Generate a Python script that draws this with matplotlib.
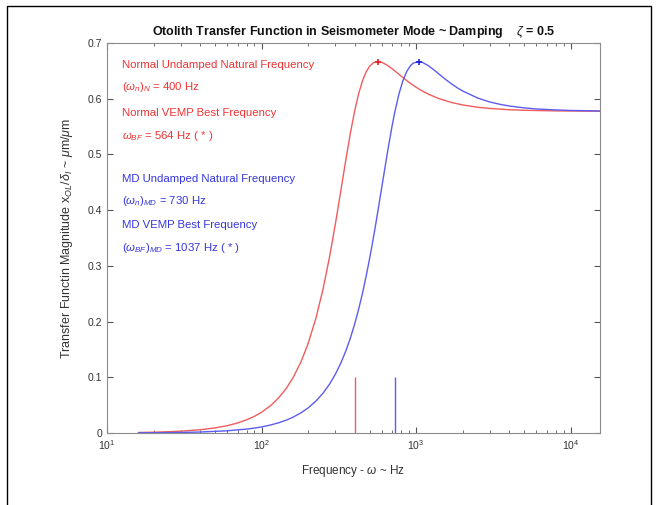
import matplotlib.pyplot as plt
from matplotlib.patches import Rectangle

# Normal ear (red)
freq_n = [16, 20, 25, 30, 40, 50, 60, 70, 80, 90, 100, 115, 130, 145, 160, 180, 200, 225, 250, 275,
          300, 325, 350, 375, 400, 425, 450, 475, 500, 530, 564, 600, 650, 700, 750, 800, 900, 1000,
          1100, 1200, 1400, 1700, 2000, 2500, 3000, 4000, 5000, 8000, 15500]
mag_n = [0.0009, 0.0014, 0.0023, 0.0033, 0.0058, 0.0091, 0.0131, 0.0180, 0.0236, 0.0300, 0.0372,
         0.0496, 0.0641, 0.0806, 0.0993, 0.1277, 0.1601, 0.2064, 0.2584, 0.3150, 0.3740, 0.4328,
         0.4880, 0.5368, 0.5774, 0.6090, 0.6322, 0.6480, 0.6581, 0.6645, 0.6667, 0.6653, 0.6602,
         0.6537, 0.6469, 0.6405, 0.6294, 0.6206, 0.6136, 0.6082, 0.6003, 0.5931, 0.5888, 0.5847,
         0.5825, 0.5802, 0.5792, 0.5781, 0.5775]

# Meniere's disease ear (blue)
freq_md = [16, 20, 30, 40, 60, 80, 90, 100, 115, 130, 145, 160, 180, 200, 225, 250, 275, 300, 325,
           350, 375, 400, 425, 450, 475, 500, 525, 550, 575, 600, 650, 700, 730, 775, 820, 870, 920,
           960, 1037, 1100, 1200, 1300, 1400, 1550, 1700, 1850, 2000, 2500, 3000, 3500, 4000, 5000,
           6000, 8000, 10000, 15500]
mag_md = [0.0003, 0.0004, 0.0010, 0.0017, 0.0039, 0.0070, 0.0088, 0.0109, 0.0145, 0.0186, 0.0232,
          0.0284, 0.0362, 0.0449, 0.0574, 0.0715, 0.0874, 0.1052, 0.1248, 0.1463, 0.1697, 0.1950,
          0.2222, 0.2509, 0.2812, 0.3126, 0.3447, 0.3773, 0.4097, 0.4414, 0.5007, 0.5517, 0.5774,
          0.6086, 0.6316, 0.6489, 0.6593, 0.6640, 0.6667, 0.6651, 0.6593, 0.6520, 0.6447, 0.6347,
          0.6264, 0.6195, 0.6139, 0.6013, 0.5941, 0.5898, 0.5869, 0.5835, 0.5816, 0.5798, 0.5789,
          0.5780]

natural_freq = [400, 730]
best_freq = [564, 1037]
peak_mag = [0.6667, 0.6667]

red_line, blue_line = '#f05c5c', '#5c5cf0'
red_txt, blue_txt = '#ee3333', '#3535dd'

plt.rcParams['font.family'] = ['Liberation Sans', 'DejaVu Sans']
plt.rcParams['mathtext.fontset'] = 'custom'
plt.rcParams['mathtext.rm'] = 'Liberation Sans'
plt.rcParams['mathtext.it'] = 'Liberation Sans:italic'

fig = plt.figure(figsize=(6.59, 5.05), dpi=100)
ax = fig.add_axes([0.1624, 0.1426, 0.7481, 0.7723])

ax.plot(freq_n, mag_n, color=red_line, lw=1.0)
ax.plot(freq_md, mag_md, color=blue_line, lw=1.0)
ax.vlines(natural_freq[0], 0, 0.1, color=red_line, lw=1.0)
ax.vlines(natural_freq[1], 0, 0.1, color=blue_line, lw=1.0)
ax.plot(best_freq[0], peak_mag[0], '+', color='#e02020', ms=5, mew=1.2)
ax.plot(best_freq[1], peak_mag[1], '+', color='#2020e0', ms=5, mew=1.2)

ax.set_xscale('log')
ax.set_xlim(10, 15500)
ax.set_ylim(0, 0.7)
ax.set_yticks([0, 0.1, 0.2, 0.3, 0.4, 0.5, 0.6, 0.7])
ax.set_yticklabels(['0', '0.1', '0.2', '0.3', '0.4', '0.5', '0.6', '0.7'])

for s in ax.spines.values():
    s.set_color('#8c8c8c')
    s.set_linewidth(0.8)
ax.tick_params(which='both', direction='in', top=True, right=True, color='#555555',
               labelsize=7.5, labelcolor='#333333')
ax.tick_params(which='major', length=4)
ax.tick_params(which='minor', length=2.5)

ax.set_title('Otolith Transfer Function in Seismometer Mode ~ Damping    $\\zeta$ = 0.5',
             fontsize=9, fontweight='bold', pad=6, color='#111111')
ax.set_xlabel('Frequency - $\\omega$ ~ Hz', fontsize=8.5, color='#333333', labelpad=8)
ax.set_ylabel('Transfer Functin Magnitude x$_{OL}$/$\\delta_I$ ~ $\\mu$m/$\\mu$m',
              fontsize=9, color='#333333', labelpad=9)

# annotations
def note(y_px, s, c):
    ax.text(0.030, (433 - y_px) / 390, s, transform=ax.transAxes, fontsize=8.2,
            color=c, va='center', ha='left')

note(65, 'Normal Undamped Natural Frequency', red_txt)
note(87, '$(\\omega_n)_N$ = 400 Hz', red_txt)
note(113, 'Normal VEMP Best Frequency', red_txt)
note(136, '$\\omega_{BF}$ = 564 Hz ( * )', red_txt)
note(179, 'MD Undamped Natural Frequency', blue_txt)
note(201, '$(\\omega_n)_{MD}$ = 730 Hz', blue_txt)
note(225, 'MD VEMP Best Frequency', blue_txt)
note(248, '$(\\omega_{BF})_{MD}$ = 1037 Hz ( * )', blue_txt)

# outer frame of the original figure
fig.add_artist(Rectangle((7 / 659, -0.02), (651 - 7) / 659, (505 - 6) / 505 + 0.02,
                         transform=fig.transFigure, fill=False, edgecolor='black', lw=1.0))

fig.savefig('out.png', dpi=100)
